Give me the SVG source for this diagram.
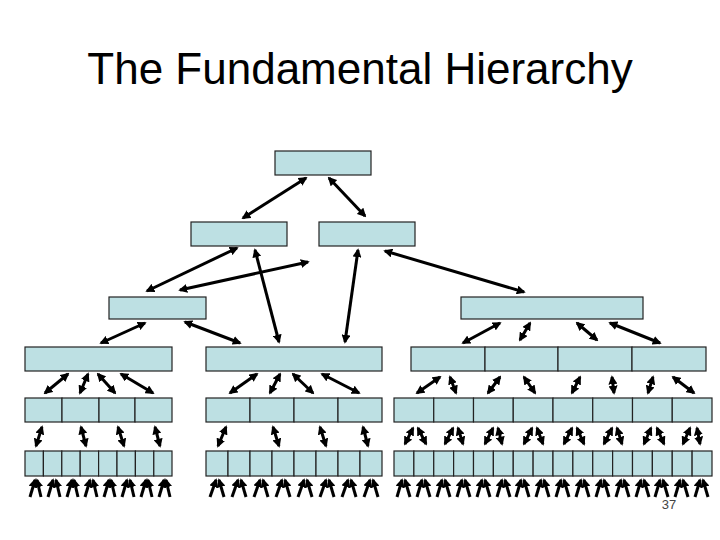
<svg xmlns="http://www.w3.org/2000/svg" width="720" height="540" viewBox="0 0 720 540">
<defs>
<marker id="h" viewBox="0 0 10 10" refX="8" refY="5" markerWidth="3" markerHeight="3" orient="auto-start-reverse"><path d="M0,0 L10,5 L0,10 z" fill="#000"/></marker>
<style>
.b{fill:#bde0e3;stroke:#222;stroke-width:1.2}
.a line{stroke:#000;stroke-width:3;marker-start:url(#h);marker-end:url(#h)}
.u line{stroke:#000;stroke-width:3}
text{font-family:"Liberation Sans",Arial,sans-serif}
</style>
</defs>
<rect width="720" height="540" fill="#fff"/>
<text x="360" y="84" font-size="44" text-anchor="middle">The Fundamental Hierarchy</text>
<text x="669" y="509" font-size="13" fill="#444" text-anchor="middle">37</text>
<g id="n-root"><rect class="b" x="275" y="151" width="96" height="24"/></g>
<g id="n-l2a"><rect class="b" x="191" y="222" width="96" height="24"/></g>
<g id="n-l2b"><rect class="b" x="319" y="222" width="96" height="24"/></g>
<g id="n-l3a"><rect class="b" x="109" y="297" width="97" height="22"/></g>
<g id="n-l3b"><rect class="b" x="461" y="297" width="182" height="22"/></g>
<g id="n-l4a"><rect class="b" x="25" y="347" width="147" height="24"/></g>
<g id="n-l4b"><rect class="b" x="206" y="347" width="176" height="24"/></g>
<g id="n-l4c"><rect class="b" x="411" y="347" width="74" height="24"/><rect class="b" x="485" y="347" width="73" height="24"/><rect class="b" x="558" y="347" width="74" height="24"/><rect class="b" x="632" y="347" width="74" height="24"/></g>
<g id="n-l5a"><rect class="b" x="25" y="398" width="37" height="24"/><rect class="b" x="62" y="398" width="37" height="24"/><rect class="b" x="99" y="398" width="36" height="24"/><rect class="b" x="135" y="398" width="37" height="24"/></g>
<g id="n-l5b"><rect class="b" x="206" y="398" width="44" height="24"/><rect class="b" x="250" y="398" width="44" height="24"/><rect class="b" x="294" y="398" width="44" height="24"/><rect class="b" x="338" y="398" width="44" height="24"/></g>
<g id="n-l5c"><rect class="b" x="394" y="398" width="39.75" height="24"/><rect class="b" x="433.75" y="398" width="39.75" height="24"/><rect class="b" x="473.5" y="398" width="39.75" height="24"/><rect class="b" x="513.25" y="398" width="39.75" height="24"/><rect class="b" x="553" y="398" width="39.75" height="24"/><rect class="b" x="592.75" y="398" width="39.75" height="24"/><rect class="b" x="632.5" y="398" width="39.75" height="24"/><rect class="b" x="672.25" y="398" width="39.75" height="24"/></g>
<g id="n-l6a"><rect class="b" x="25" y="451" width="18.4" height="25"/><rect class="b" x="43.4" y="451" width="18.4" height="25"/><rect class="b" x="61.8" y="451" width="18.4" height="25"/><rect class="b" x="80.2" y="451" width="18.4" height="25"/><rect class="b" x="98.6" y="451" width="18.4" height="25"/><rect class="b" x="117" y="451" width="18.4" height="25"/><rect class="b" x="135.4" y="451" width="18.4" height="25"/><rect class="b" x="153.8" y="451" width="18.2" height="25"/></g>
<g id="n-l6b"><rect class="b" x="206" y="451" width="22" height="25"/><rect class="b" x="228" y="451" width="22" height="25"/><rect class="b" x="250" y="451" width="22" height="25"/><rect class="b" x="272" y="451" width="22" height="25"/><rect class="b" x="294" y="451" width="22" height="25"/><rect class="b" x="316" y="451" width="22" height="25"/><rect class="b" x="338" y="451" width="22" height="25"/><rect class="b" x="360" y="451" width="22" height="25"/></g>
<g id="n-l6c"><rect class="b" x="394" y="451" width="19.875" height="25"/><rect class="b" x="413.875" y="451" width="19.875" height="25"/><rect class="b" x="433.75" y="451" width="19.875" height="25"/><rect class="b" x="453.625" y="451" width="19.875" height="25"/><rect class="b" x="473.5" y="451" width="19.875" height="25"/><rect class="b" x="493.375" y="451" width="19.875" height="25"/><rect class="b" x="513.25" y="451" width="19.875" height="25"/><rect class="b" x="533.125" y="451" width="19.875" height="25"/><rect class="b" x="553" y="451" width="19.875" height="25"/><rect class="b" x="572.875" y="451" width="19.875" height="25"/><rect class="b" x="592.75" y="451" width="19.875" height="25"/><rect class="b" x="612.625" y="451" width="19.875" height="25"/><rect class="b" x="632.5" y="451" width="19.875" height="25"/><rect class="b" x="652.375" y="451" width="19.875" height="25"/><rect class="b" x="672.25" y="451" width="19.875" height="25"/><rect class="b" x="692.125" y="451" width="19.875" height="25"/></g>
<g id="connectors" class="a">
<line x1="306" y1="178" x2="243" y2="218"/><line x1="329" y1="178" x2="365" y2="216"/>
<line x1="237" y1="248" x2="147" y2="291"/><line x1="180" y1="290" x2="308" y2="262"/><line x1="255" y1="250" x2="279" y2="342"/><line x1="358" y1="250" x2="345" y2="342"/><line x1="385" y1="251" x2="524" y2="292"/>
<line x1="145" y1="323" x2="101" y2="343"/><line x1="185" y1="322" x2="240" y2="343"/>
<line x1="500" y1="323" x2="463" y2="343"/><line x1="530" y1="323" x2="520" y2="340"/><line x1="577" y1="323" x2="597" y2="340"/><line x1="610" y1="323" x2="660" y2="343"/>
<line x1="45" y1="393" x2="68" y2="374"/><line x1="80" y1="393" x2="88" y2="374"/><line x1="98" y1="374" x2="115" y2="393"/><line x1="121" y1="374" x2="153" y2="393"/>
<line x1="230" y1="393" x2="257" y2="374"/><line x1="270" y1="393" x2="280" y2="374"/><line x1="293" y1="374" x2="313" y2="393"/><line x1="322" y1="374" x2="359" y2="393"/>
<line x1="417" y1="393" x2="440" y2="377"/><line x1="450" y1="377" x2="456" y2="393"/><line x1="488" y1="393" x2="500" y2="377"/><line x1="524" y1="377" x2="535" y2="393"/><line x1="572" y1="393" x2="580" y2="377"/><line x1="612" y1="377" x2="614" y2="393"/><line x1="648" y1="393" x2="653" y2="377"/><line x1="673" y1="377" x2="694" y2="393"/>
<line x1="36" y1="446" x2="42" y2="427"/><line x1="81" y1="427" x2="86" y2="446"/><line x1="118" y1="427" x2="124" y2="446"/><line x1="155" y1="427" x2="160" y2="446"/>
<line x1="218" y1="446" x2="226" y2="427"/><line x1="273" y1="427" x2="279" y2="446"/><line x1="320" y1="427" x2="326" y2="446"/><line x1="363" y1="427" x2="368" y2="446"/>
<line x1="405" y1="444" x2="413" y2="428"/><line x1="418" y1="428" x2="426" y2="444"/><line x1="445" y1="444" x2="453" y2="428"/><line x1="458" y1="428" x2="463" y2="444"/><line x1="485" y1="444" x2="493" y2="428"/><line x1="498" y1="428" x2="502" y2="444"/><line x1="524" y1="444" x2="532" y2="428"/><line x1="537" y1="428" x2="543" y2="444"/><line x1="564" y1="444" x2="572" y2="428"/><line x1="577" y1="428" x2="584" y2="444"/><line x1="604" y1="444" x2="612" y2="428"/><line x1="617" y1="428" x2="622" y2="444"/><line x1="644" y1="444" x2="651" y2="428"/><line x1="657" y1="428" x2="664" y2="444"/><line x1="683" y1="444" x2="690" y2="428"/><line x1="697" y1="428" x2="700" y2="444"/>
</g>
<g id="bottom-connectors" class="u">
<line x1="30" y1="497" x2="35" y2="480" marker-end="url(#h)"/><line x1="41" y1="497" x2="37" y2="480" marker-end="url(#h)"/><line x1="48" y1="497" x2="53" y2="480" marker-end="url(#h)"/><line x1="60" y1="497" x2="56" y2="480" marker-end="url(#h)"/><line x1="67" y1="497" x2="72" y2="480" marker-end="url(#h)"/><line x1="78" y1="497" x2="74" y2="480" marker-end="url(#h)"/><line x1="85" y1="497" x2="90" y2="480" marker-end="url(#h)"/><line x1="97" y1="497" x2="93" y2="480" marker-end="url(#h)"/><line x1="104" y1="497" x2="109" y2="480" marker-end="url(#h)"/><line x1="115" y1="497" x2="111" y2="480" marker-end="url(#h)"/><line x1="122" y1="497" x2="127" y2="480" marker-end="url(#h)"/><line x1="134" y1="497" x2="130" y2="480" marker-end="url(#h)"/><line x1="141" y1="497" x2="146" y2="480" marker-end="url(#h)"/><line x1="152" y1="497" x2="148" y2="480" marker-end="url(#h)"/><line x1="159" y1="497" x2="164" y2="480" marker-end="url(#h)"/><line x1="170" y1="497" x2="166" y2="480" marker-end="url(#h)"/>
<line x1="210" y1="497" x2="216" y2="480" marker-end="url(#h)"/><line x1="224" y1="497" x2="219" y2="480" marker-end="url(#h)"/><line x1="232" y1="497" x2="238" y2="480" marker-end="url(#h)"/><line x1="246" y1="497" x2="241" y2="480" marker-end="url(#h)"/><line x1="254" y1="497" x2="260" y2="480" marker-end="url(#h)"/><line x1="268" y1="497" x2="263" y2="480" marker-end="url(#h)"/><line x1="276" y1="497" x2="282" y2="480" marker-end="url(#h)"/><line x1="290" y1="497" x2="285" y2="480" marker-end="url(#h)"/><line x1="298" y1="497" x2="304" y2="480" marker-end="url(#h)"/><line x1="312" y1="497" x2="307" y2="480" marker-end="url(#h)"/><line x1="320" y1="497" x2="326" y2="480" marker-end="url(#h)"/><line x1="334" y1="497" x2="329" y2="480" marker-end="url(#h)"/><line x1="342" y1="497" x2="348" y2="480" marker-end="url(#h)"/><line x1="356" y1="497" x2="351" y2="480" marker-end="url(#h)"/><line x1="364" y1="497" x2="370" y2="480" marker-end="url(#h)"/><line x1="378" y1="497" x2="373" y2="480" marker-end="url(#h)"/>
<line x1="397" y1="497" x2="402" y2="480" marker-end="url(#h)"/><line x1="410" y1="497" x2="405" y2="480" marker-end="url(#h)"/><line x1="417" y1="497" x2="422" y2="480" marker-end="url(#h)"/><line x1="430" y1="497" x2="425" y2="480" marker-end="url(#h)"/><line x1="437" y1="497" x2="442" y2="480" marker-end="url(#h)"/><line x1="450" y1="497" x2="445" y2="480" marker-end="url(#h)"/><line x1="457" y1="497" x2="462" y2="480" marker-end="url(#h)"/><line x1="470" y1="497" x2="465" y2="480" marker-end="url(#h)"/><line x1="477" y1="497" x2="482" y2="480" marker-end="url(#h)"/><line x1="490" y1="497" x2="485" y2="480" marker-end="url(#h)"/><line x1="497" y1="497" x2="502" y2="480" marker-end="url(#h)"/><line x1="510" y1="497" x2="505" y2="480" marker-end="url(#h)"/><line x1="516" y1="497" x2="521" y2="480" marker-end="url(#h)"/><line x1="529" y1="497" x2="524" y2="480" marker-end="url(#h)"/><line x1="536" y1="497" x2="541" y2="480" marker-end="url(#h)"/><line x1="549" y1="497" x2="544" y2="480" marker-end="url(#h)"/><line x1="556" y1="497" x2="561" y2="480" marker-end="url(#h)"/><line x1="569" y1="497" x2="564" y2="480" marker-end="url(#h)"/><line x1="576" y1="497" x2="581" y2="480" marker-end="url(#h)"/><line x1="589" y1="497" x2="584" y2="480" marker-end="url(#h)"/><line x1="596" y1="497" x2="601" y2="480" marker-end="url(#h)"/><line x1="609" y1="497" x2="604" y2="480" marker-end="url(#h)"/><line x1="616" y1="497" x2="621" y2="480" marker-end="url(#h)"/><line x1="629" y1="497" x2="624" y2="480" marker-end="url(#h)"/><line x1="636" y1="497" x2="641" y2="480" marker-end="url(#h)"/><line x1="649" y1="497" x2="644" y2="480" marker-end="url(#h)"/><line x1="655" y1="497" x2="660" y2="480" marker-end="url(#h)"/><line x1="668" y1="497" x2="663" y2="480" marker-end="url(#h)"/><line x1="675" y1="497" x2="680" y2="480" marker-end="url(#h)"/><line x1="688" y1="497" x2="683" y2="480" marker-end="url(#h)"/><line x1="695" y1="497" x2="700" y2="480" marker-end="url(#h)"/><line x1="708" y1="497" x2="703" y2="480" marker-end="url(#h)"/>
</g>
</svg>
